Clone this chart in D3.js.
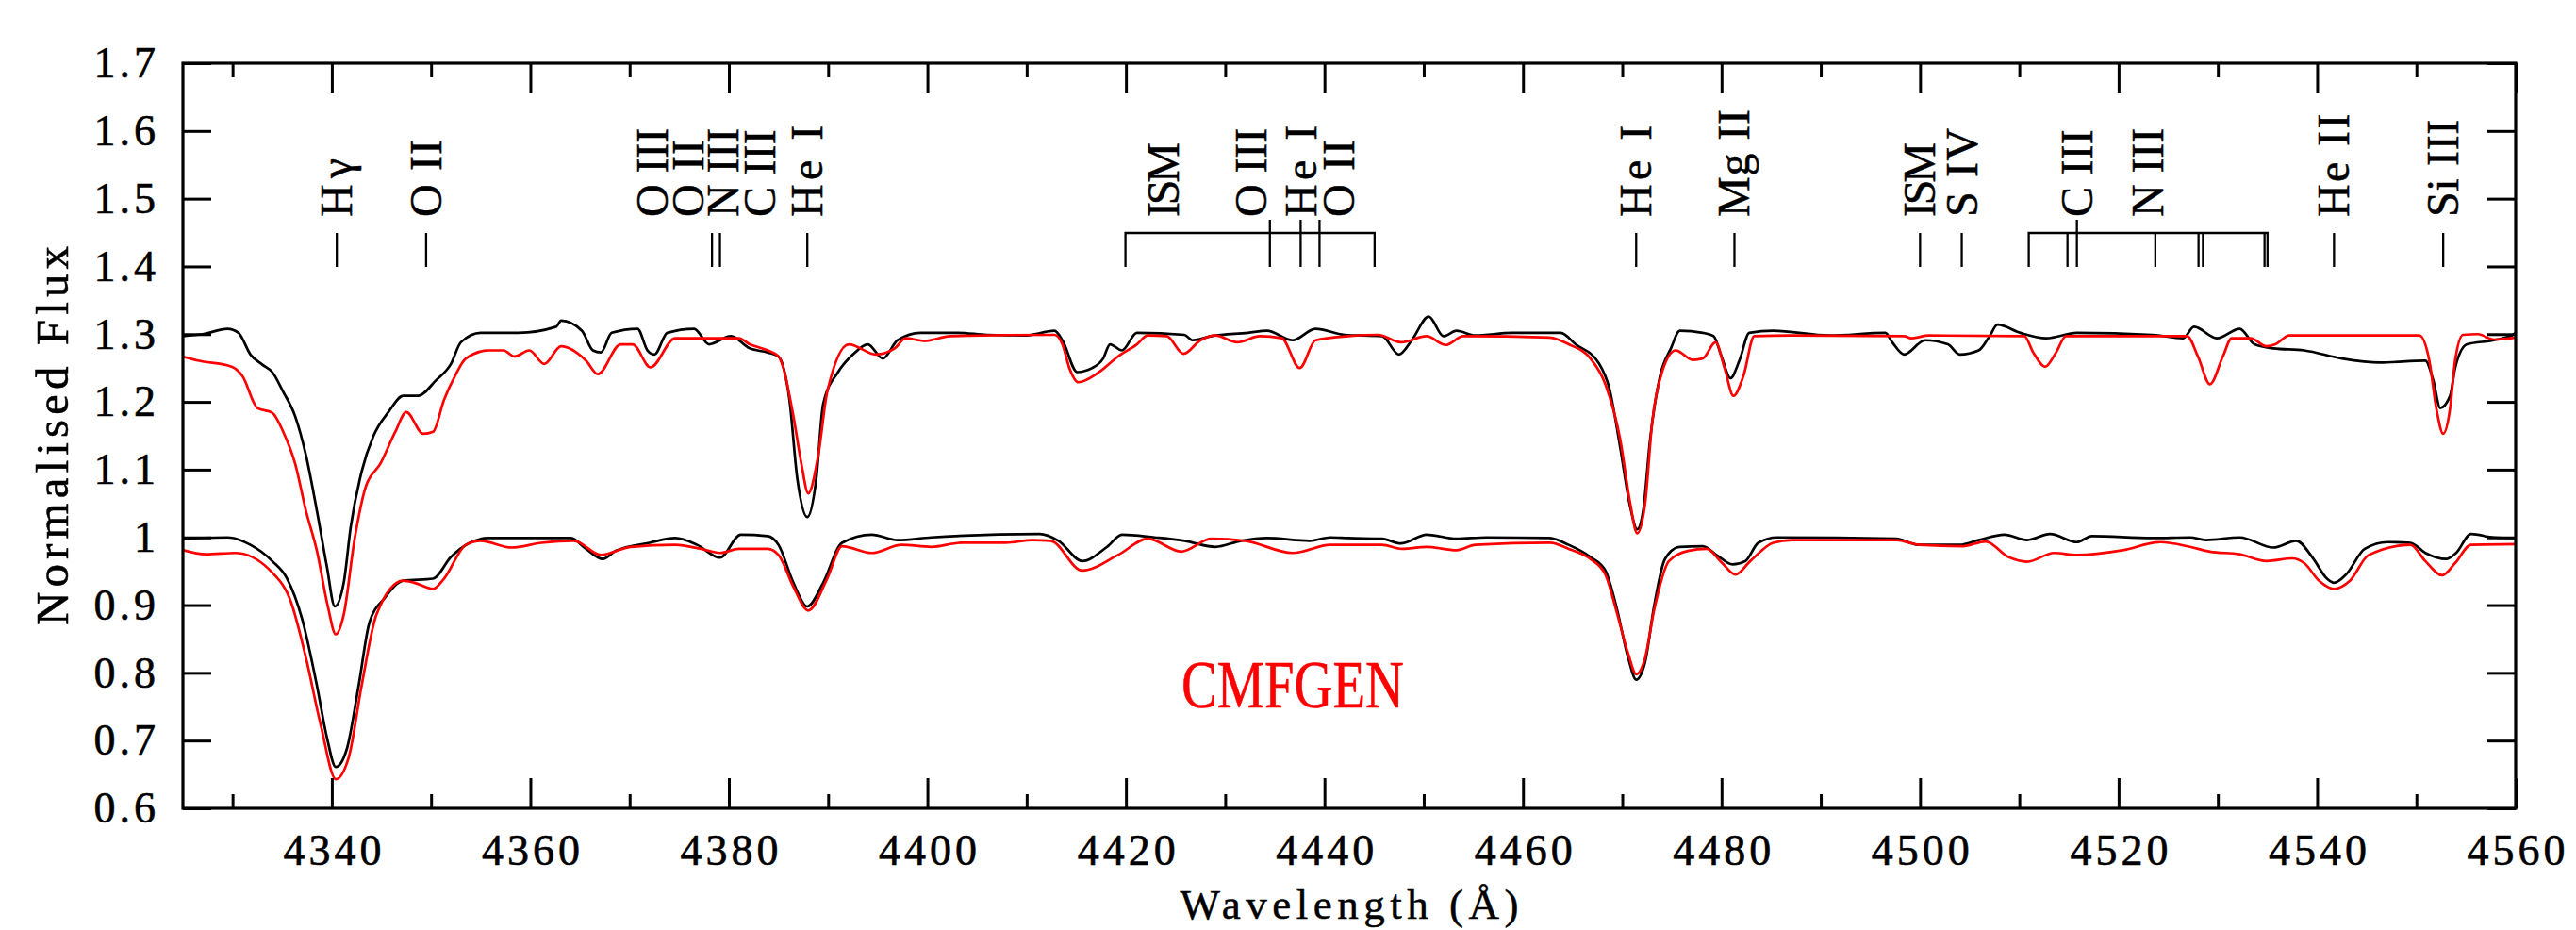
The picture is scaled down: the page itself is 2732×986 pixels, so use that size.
<!DOCTYPE html>
<html><head><meta charset="utf-8">
<script src="https://cdn.jsdelivr.net/npm/d3@7"></script>
<style>
body{margin:0;background:#fff;}
svg{display:block;}
text{font-family:"Liberation Serif","Times New Roman",serif;fill:#000;}
</style>
</head><body>
<svg id="chart" width="2732" height="986"></svg>
<script>
// ---------------- data ----------------
// observed spectrum, shifted by +0.3 (upper black)
const obsUpper = [
[4325.0,1.297],[4327.0,1.300],[4329.5,1.308],[4330.6,1.302],[4331.8,1.270],[4333.0,1.255],[4334.0,1.244],[4335.1,1.215],[4336.3,1.179],[4337.4,1.121],[4338.5,1.039],[4339.5,0.957],[4340.3,0.898],[4341.2,0.933],[4341.9,1.015],[4343.0,1.097],[4344.2,1.150],[4345.7,1.185],[4347.2,1.209],[4348.7,1.209],[4350.5,1.232],[4352.0,1.256],[4353.0,1.288],[4355.0,1.302],[4358.8,1.302],[4362.6,1.311],[4363.1,1.320],[4365.2,1.305],[4366.3,1.276],[4367.1,1.273],[4368.2,1.302],[4370.8,1.308],[4371.8,1.276],[4372.5,1.270],[4373.8,1.302],[4376.5,1.308],[4378.0,1.285],[4380.2,1.297],[4382.1,1.279],[4383.9,1.273],
[4385.0,1.267],[4386.1,1.203],[4386.9,1.086],[4387.9,1.030],[4388.8,1.086],[4389.5,1.197],[4391.0,1.244],[4392.5,1.270],[4394.0,1.285],[4395.5,1.264],[4397.0,1.291],[4399.3,1.302],[4403.0,1.302],[4406.0,1.299],[4409.8,1.298],[4412.8,1.305],[4413.6,1.291],[4415.1,1.244],[4416.6,1.250],[4417.7,1.264],[4418.4,1.285],[4419.6,1.276],[4421.1,1.302],[4425.9,1.299],[4426.7,1.291],[4428.6,1.297],[4432.3,1.302],[4434.2,1.305],[4436.8,1.291],[4439.1,1.308],[4442.0,1.299],
[4445.8,1.297],[4447.5,1.270],[4448.8,1.291],[4450.5,1.326],[4452.0,1.297],[4453.3,1.305],[4455.2,1.298],[4458.9,1.302],[4463.8,1.302],[4465.3,1.285],[4467.6,1.258],[4468.7,1.220],[4469.8,1.132],[4470.8,1.045],[4471.5,1.012],[4472.1,1.039],[4472.8,1.144],[4473.8,1.238],[4474.9,1.279],[4475.8,1.305],[4478.1,1.302],[4479.2,1.297],[4480.0,1.267],[4480.9,1.235],[4481.8,1.261],[4482.8,1.302],[4485.2,1.305],[4490.9,1.298],[4496.5,1.302],[4497.2,1.288],[4498.4,1.270],[4500.5,1.291],
[4502.8,1.285],[4504.0,1.270],[4505.9,1.276],[4507.0,1.297],[4507.8,1.314],[4510.1,1.302],[4512.7,1.294],[4515.8,1.302],[4523.4,1.299],[4526.5,1.294],[4527.6,1.311],[4529.9,1.294],[4532.2,1.308],[4533.7,1.285],[4535.6,1.279],[4538.7,1.276],[4542.5,1.264],[4546.3,1.258],[4550.9,1.261],[4551.7,1.232],[4552.4,1.191],[4553.4,1.209],[4553.9,1.250],[4555.1,1.285],[4557.8,1.291],[4559.7,1.299],[4560.0,1.302]
];
// CMFGEN model, shifted by +0.3 (upper red)
const modelUpper = [
[4325.0,1.267],[4326.5,1.261],[4329.9,1.252],[4331.0,1.238],[4332.5,1.191],[4334.0,1.184],[4335.1,1.156],[4336.3,1.109],[4337.4,1.039],[4338.5,0.980],[4339.6,0.898],[4340.4,0.857],[4341.2,0.886],[4342.3,0.998],[4343.4,1.074],[4344.9,1.109],[4346.4,1.156],[4347.5,1.185],[4349.2,1.153],[4350.2,1.156],[4351.3,1.203],[4352.4,1.238],[4353.5,1.264],[4355.8,1.276],[4357.3,1.276],[4358.4,1.267],[4359.9,1.276],[4361.4,1.256],[4363.1,1.282],[4365.6,1.261],[4366.8,1.241],[4369.1,1.285],[4370.3,1.285],[4372.1,1.251],[4374.6,1.294],[4379.5,1.294],[4381.0,1.294],[4382.1,1.285],[4383.9,1.276],
[4385.0,1.267],[4386.5,1.179],[4387.3,1.109],[4388.0,1.065],[4389.0,1.121],[4389.9,1.214],[4392.1,1.285],[4394.8,1.270],[4396.7,1.279],[4397.8,1.294],[4399.7,1.290],[4402.3,1.297],[4412.8,1.299],[4413.6,1.285],[4414.3,1.250],[4415.2,1.229],[4417.3,1.244],[4419.2,1.267],[4421.1,1.285],[4422.2,1.298],[4424.1,1.297],[4425.8,1.271],[4427.5,1.291],[4429.0,1.298],[4431.2,1.288],[4433.5,1.297],[4435.7,1.294],[4437.5,1.250],[4439.1,1.291],[4442.4,1.297],
[4445.4,1.299],[4447.7,1.288],[4450.3,1.297],[4452.2,1.284],[4454.0,1.297],[4462.7,1.295],[4464.6,1.285],[4466.8,1.264],[4468.3,1.226],[4469.8,1.144],[4470.8,1.050],[4471.5,1.006],[4472.3,1.050],[4473.0,1.168],[4474.0,1.244],[4475.4,1.276],[4477.1,1.262],[4478.1,1.264],[4479.4,1.288],[4480.3,1.250],[4481.2,1.209],[4482.2,1.238],[4483.3,1.297],[4487.1,1.298],[4498.4,1.297],[4499.1,1.294],[4500.9,1.298],
[4510.5,1.297],[4511.4,1.273],[4512.6,1.252],[4513.7,1.273],[4514.7,1.297],[4526.9,1.297],[4528.0,1.267],[4529.2,1.226],[4530.5,1.267],[4531.4,1.294],[4533.3,1.294],[4534.9,1.282],[4535.8,1.285],[4537.2,1.298],[4550.3,1.298],[4551.3,1.261],[4552.0,1.191],[4552.7,1.153],[4553.4,1.191],[4553.9,1.261],[4554.7,1.299],[4556.2,1.300],[4557.8,1.292],[4560.0,1.295]
];
// observed spectrum (lower black)
const obsLower = [
[4325.0,0.998],[4329.5,1.000],[4331.8,0.989],[4334.0,0.965],[4335.5,0.939],[4337.0,0.880],[4338.5,0.781],[4339.5,0.705],[4340.4,0.661],[4341.5,0.687],[4342.7,0.781],[4343.8,0.875],[4345.3,0.910],[4347.2,0.936],[4350.2,0.939],[4352.0,0.971],[4353.9,0.992],[4355.8,0.999],[4364.1,0.999],[4365.6,0.983],[4367.3,0.968],[4368.6,0.980],[4372.0,0.992],[4374.6,0.999],[4376.8,0.989],[4379.1,0.970],[4381.2,1.004],[4383.9,1.002],
[4385.0,0.989],[4386.5,0.933],[4387.9,0.898],[4389.5,0.933],[4391.4,0.992],[4394.4,1.004],[4397.0,0.996],[4400.4,1.000],[4411.3,1.005],[4413.2,0.995],[4415.6,0.965],[4418.1,0.986],[4419.6,1.004],[4422.9,1.000],[4425.9,0.995],[4429.0,0.986],[4431.6,0.995],[4434.2,0.999],[4438.5,0.995],[4440.6,1.000],[4442.4,0.999],
[4445.8,0.998],[4447.7,0.991],[4450.3,1.004],[4453.3,0.998],[4456.3,1.000],[4462.7,0.999],[4464.6,0.989],[4466.8,0.971],[4468.3,0.951],[4469.4,0.898],[4470.6,0.822],[4471.4,0.790],[4472.3,0.816],[4473.2,0.898],[4474.3,0.968],[4475.8,0.986],[4478.1,0.987],[4479.6,0.973],[4481.1,0.960],[4482.4,0.965],[4483.7,0.992],[4485.6,1.000],[4497.6,0.998],[4499.9,0.989],
[4504.0,0.989],[4505.9,0.996],[4508.5,1.004],[4510.8,0.996],[4513.1,1.005],[4515.8,0.993],[4517.3,1.002],[4523.4,0.999],[4527.2,1.000],[4528.8,0.996],[4532.2,1.000],[4535.6,0.985],[4537.9,0.995],[4539.5,0.971],[4541.0,0.939],[4541.7,0.933],[4542.9,0.945],[4544.8,0.983],[4547.1,0.993],[4549.4,0.992],[4550.9,0.977],[4553.0,0.968],[4554.0,0.977],[4555.5,1.005],[4557.8,1.000],[4560.0,0.999]
];
// CMFGEN model (lower red)
const modelLower = [
[4325.0,0.981],[4327.3,0.975],[4330.3,0.977],[4334.0,0.948],[4335.9,0.904],[4337.4,0.822],[4338.9,0.722],[4340.4,0.643],[4341.7,0.675],[4343.0,0.781],[4344.5,0.886],[4347.2,0.936],[4348.3,0.933],[4350.2,0.924],[4351.3,0.939],[4353.5,0.989],[4355.0,0.995],[4358.1,0.985],[4361.1,0.992],[4364.4,0.995],[4367.1,0.974],[4370.1,0.986],[4374.6,0.989],[4377.2,0.983],[4379.1,0.977],[4381.0,0.983],[4383.9,0.983],
[4385.0,0.974],[4386.5,0.927],[4388.0,0.892],[4389.9,0.939],[4391.4,0.987],[4394.4,0.977],[4397.4,0.989],[4400.4,0.986],[4403.4,0.992],[4407.9,0.992],[4410.6,0.996],[4412.4,0.995],[4415.6,0.951],[4419.2,0.974],[4422.2,0.998],[4425.6,0.979],[4428.6,0.998],[4432.0,0.995],[4436.8,0.977],[4440.6,0.989],[4442.4,0.989],
[4445.8,0.989],[4447.8,0.983],[4450.3,0.986],[4453.3,0.981],[4455.2,0.989],[4462.7,0.992],[4464.6,0.983],[4466.8,0.968],[4468.3,0.945],[4469.4,0.892],[4470.6,0.828],[4471.4,0.798],[4472.3,0.822],[4473.2,0.892],[4474.7,0.965],[4476.6,0.980],[4478.5,0.983],[4480.0,0.963],[4481.4,0.945],[4482.9,0.965],[4485.2,0.992],[4487.1,0.996],[4497.6,0.996],[4499.9,0.989],
[4504.3,0.987],[4506.6,0.994],[4508.9,0.971],[4510.8,0.964],[4513.5,0.977],[4515.8,0.974],[4520.4,0.981],[4524.2,0.993],[4527.2,0.986],[4529.2,0.979],[4532.2,0.975],[4534.9,0.965],[4537.5,0.969],[4538.7,0.962],[4540.2,0.936],[4541.7,0.924],[4543.3,0.936],[4545.2,0.974],[4549.4,0.989],[4550.9,0.965],[4552.6,0.944],[4553.9,0.962],[4555.5,0.989],[4560.0,0.990]
];

const xMajorTicks = [4340,4360,4380,4400,4420,4440,4460,4480,4500,4520,4540,4560];
const xMinorTicks = [4330,4350,4370,4390,4410,4430,4450,4470,4490,4510,4530,4550];
const yTicks = [0.6,0.7,0.8,0.9,1.0,1.1,1.2,1.3,1.4,1.5,1.6,1.7];

// line identifications: label text and wavelength where the label is written
const labelText = ["Hγ","O II","O III","O II","N III","C III","He I","ISM","O III","He I","O II","He I","Mg II","ISM","S IV","C III","N III","He II","Si III"];
const labelWave = [4340.5,4349.5,4372.3,4375.9,4379.4,4383.1,4387.9,4423.8,4432.6,4437.7,4441.5,4471.4,4481.3,4500.0,4504.2,4515.8,4522.95,4541.7,4552.7];
// single line markers
const singleLines = [4340.5,4349.5,4378.3,4379.1,4387.9,4471.4,4481.3,4500.0,4504.2,4541.7,4552.7];
// bracketed groups: ends, inner components, components drawn taller
const bracketEnds = [[4419.95,4445.05],[4510.95,4535.0]];
const bracketInner = [[],[4514.85,4523.7,4528.05,4528.5,4534.7]];
const bracketTall = [[4434.5,4437.6,4439.5],[4515.8]];

// ---------------- drawing ----------------
// approximate advance widths of the plotting font (units of a 21-unit cap height)
const glyphUnits = {"H":22,"e":18,"I":8,"O":22,"S":20,"M":24,"N":22,"C":21,"g":19,"i":8,"V":18," ":16,"γ":19};
const labelLength = t => Array.from(t).reduce((s,c)=>s+(glyphUnits[c]||18),0)*1.52;

const svg = d3.select("#chart");
svg.append("rect").attr("width",2732).attr("height",986).attr("fill","#fff");

const L = 194, R = 2668, T = 67, B = 857;
const x = d3.scaleLinear().domain([4325,4560]).range([L,R]);
const y = d3.scaleLinear().domain([0.6,1.7]).range([B,T]);

svg.append("defs").append("clipPath").attr("id","clip")
  .append("rect").attr("x",L).attr("y",T).attr("width",R-L).attr("height",B-T);

const line = d3.line().x(d=>x(d[0])).y(d=>y(d[1])).curve(d3.curveMonotoneX);
const plot = svg.append("g").attr("clip-path","url(#clip)");
[[obsUpper,"#000"],[obsLower,"#000"],[modelUpper,"#ff0000"],[modelLower,"#ff0000"]].forEach(([d,c])=>{
  plot.append("path").datum(d).attr("d",line).attr("fill","none")
    .attr("stroke",c).attr("stroke-width",2.7).attr("stroke-linejoin","round");
});

// axes
const tickFont = g => g.selectAll("text").style("font-size","46px").style("letter-spacing","4px")
  .attr("stroke","#000").attr("stroke-width",0.6);
const noDomain = g => g.select(".domain").remove();
const styleTicks = g => g.selectAll(".tick line").attr("stroke","#000").attr("stroke-width",3);

svg.append("g").attr("transform",`translate(0,${B})`)
  .call(d3.axisBottom(x).tickValues(xMajorTicks).tickSize(-32).tickPadding(27).tickFormat(d3.format("d")))
  .call(noDomain).call(styleTicks).call(tickFont)
  .selectAll("text").attr("dx","2px");
svg.append("g").attr("transform",`translate(0,${B})`)
  .call(d3.axisBottom(x).tickValues(xMinorTicks).tickSize(-15).tickFormat(""))
  .call(noDomain).call(styleTicks);
svg.append("g").attr("transform",`translate(0,${T})`)
  .call(d3.axisTop(x).tickValues(xMajorTicks).tickSize(-32).tickFormat(""))
  .call(noDomain).call(styleTicks);
svg.append("g").attr("transform",`translate(0,${T})`)
  .call(d3.axisTop(x).tickValues(xMinorTicks).tickSize(-15).tickFormat(""))
  .call(noDomain).call(styleTicks);
svg.append("g").attr("transform",`translate(${L},0)`)
  .call(d3.axisLeft(y).tickValues(yTicks).tickSize(-30).tickPadding(25).tickFormat(d=>String(+d.toFixed(1))))
  .call(noDomain).call(styleTicks).call(tickFont);
svg.append("g").attr("transform",`translate(${R},0)`)
  .call(d3.axisRight(y).tickValues(yTicks).tickSize(-30).tickFormat(""))
  .call(noDomain).call(styleTicks);

svg.append("rect").attr("x",L).attr("y",T).attr("width",R-L).attr("height",B-T)
  .attr("fill","none").attr("stroke","#000").attr("stroke-width",3.2);

// axis titles
svg.append("text").attr("x",(L+R)/2).attr("y",974).attr("text-anchor","middle")
  .style("font-size","45px").attr("textLength",359).attr("lengthAdjust","spacing")
  .attr("stroke","#000").attr("stroke-width",0.5)
  .text("Wavelength (Å)");
svg.append("text").attr("transform",`translate(72,${(T+B)/2}) rotate(-90)`).attr("text-anchor","middle")
  .style("font-size","49px").attr("textLength",402).attr("lengthAdjust","spacing")
  .attr("stroke","#000").attr("stroke-width",0.5)
  .text("Normalised Flux");

// model label
svg.append("text").attr("x",1253).attr("y",750)
  .style("font-size","72px").style("fill","#ff0000")
  .attr("stroke","#ff0000").attr("stroke-width",0.6)
  .attr("textLength",236).attr("lengthAdjust","spacingAndGlyphs")
  .text("CMFGEN");

// line identification marks
const marks = svg.append("g").attr("stroke","#000").attr("stroke-width",2.3).attr("fill","none");
singleLines.forEach(w=>{
  marks.append("line").attr("x1",x(w)).attr("x2",x(w)).attr("y1",247).attr("y2",283);
});
bracketEnds.forEach((e,i)=>{
  marks.append("path").attr("d",`M${x(e[0])},283V247H${x(e[1])}V283`);
  bracketInner[i].forEach(w=>marks.append("line").attr("x1",x(w)).attr("x2",x(w)).attr("y1",247).attr("y2",283));
  bracketTall[i].forEach(w=>marks.append("line").attr("x1",x(w)).attr("x2",x(w)).attr("y1",233).attr("y2",283));
});
labelText.forEach((t,i)=>{
  svg.append("text").attr("transform",`translate(${x(labelWave[i])+16},230) rotate(-90)`)
    .attr("text-anchor","start").style("font-size","48px")
    .attr("stroke","#000").attr("stroke-width",0.5)
    .attr("textLength",labelLength(t)).attr("lengthAdjust","spacing").text(t);
});
</script>
</body></html>
